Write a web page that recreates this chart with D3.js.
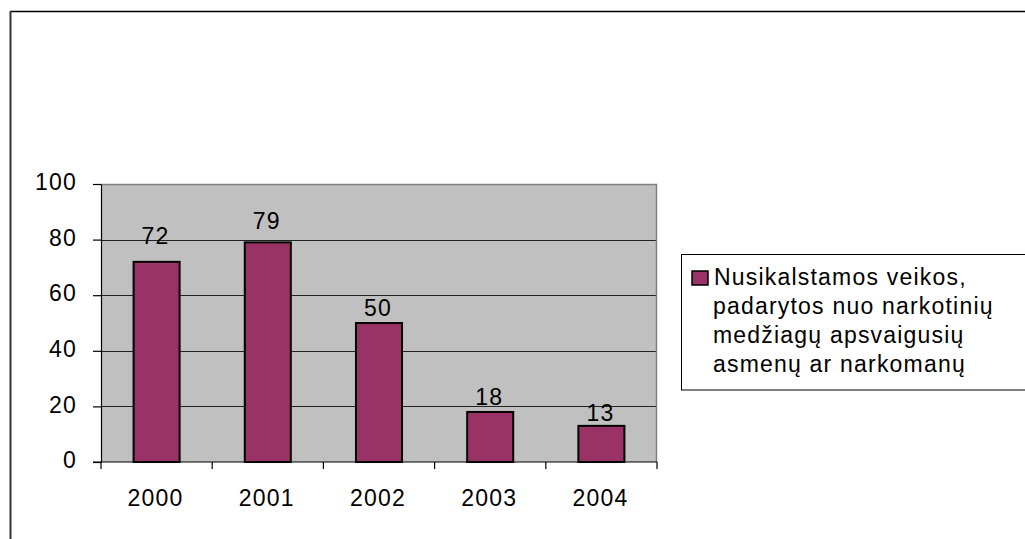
<!DOCTYPE html>
<html>
<head>
<meta charset="utf-8">
<script src="https://cdn.jsdelivr.net/npm/d3@7"></script>
<style>
  html, body { margin: 0; padding: 0; background: #fff; }
  svg { display: block; }
  text { font-family: "Liberation Sans", Arial, sans-serif; fill: #000; }
</style>
</head>
<body>
<script>
// ---- data ----
const categories = ["2000", "2001", "2002", "2003", "2004"];
const values = [72, 79, 50, 18, 13];
const yTicks = [0, 20, 40, 60, 80, 100];
const seriesName = "Nusikalstamos veikos, padarytos nuo narkotinių medžiagų apsvaigusių asmenų ar narkomanų";
const legendLines = ["Nusikalstamos veikos,", "padarytos nuo narkotinių", "medžiagų apsvaigusių", "asmenų ar narkomanų"];

// ---- layout ----
const W = 1025, H = 539;
const plot = { left: 101, top: 184, right: 657, bottom: 462 };
const labelGap = [18, 13, 7, 7, 5]; // gap between bar top and value label baseline
const barColor = "#993366";
const plotBg = "#C0C0C0";
const FS = 23, LS = 1.2;

const svg = d3.select("body").append("svg").attr("width", W).attr("height", H);

// outer chart border (right / bottom lie outside the view)
svg.append("line").attr("x1", 10).attr("x2", W + 5).attr("y1", 11.5).attr("y2", 11.5)
  .attr("stroke", "#000").attr("stroke-width", 1.5);
svg.append("line").attr("x1", 10.5).attr("x2", 10.5).attr("y1", 11).attr("y2", H + 5)
  .attr("stroke", "#333").attr("stroke-width", 2);

const x = d3.scaleBand().domain(categories).range([plot.left, plot.right]).paddingInner(0.586).paddingOuter(0.293);
const xb = d3.scaleBand().domain(categories).range([plot.left, plot.right]);
const y = d3.scaleLinear().domain([0, 100]).range([plot.bottom, plot.top]);

// plot background
svg.append("rect").attr("x", plot.left).attr("y", plot.top)
  .attr("width", plot.right - plot.left).attr("height", plot.bottom - plot.top)
  .attr("fill", plotBg);

// gridlines
svg.append("g").selectAll("line").data(yTicks.filter(d => d > 0 && d < 100)).join("line")
  .attr("x1", plot.left).attr("x2", plot.right)
  .attr("y1", d => Math.round(y(d)) + 0.5).attr("y2", d => Math.round(y(d)) + 0.5)
  .attr("stroke", "#222").attr("stroke-width", 1);

// plot border top/right (gray)
svg.append("path")
  .attr("d", `M${plot.left},${plot.top + 0.5}H${plot.right - 0.5}V${plot.bottom}`)
  .attr("fill", "none").attr("stroke", "#808080").attr("stroke-width", 1.5);

// bars
svg.append("g").selectAll("rect").data(values).join("rect")
  .attr("x", (d, i) => x(categories[i]))
  .attr("y", d => y(d))
  .attr("width", x.bandwidth())
  .attr("height", d => plot.bottom - y(d))
  .attr("fill", barColor).attr("stroke", "#000").attr("stroke-width", 2);

// value labels
svg.append("g").selectAll("text").data(values).join("text")
  .attr("x", (d, i) => x(categories[i]) + x.bandwidth() / 2 - 1)
  .attr("y", (d, i) => y(d) - labelGap[i])
  .attr("text-anchor", "middle")
  .attr("font-size", FS).attr("letter-spacing", LS)
  .text(d => d);

// y axis
const yAxis = d3.axisLeft(y).tickValues(yTicks).tickSize(8).tickPadding(16).tickSizeOuter(0);
const gy = svg.append("g").attr("transform", `translate(${plot.left},0)`).call(yAxis);
gy.select(".domain").attr("stroke", "#000").attr("stroke-width", 1.2);
gy.selectAll(".tick line").attr("stroke", "#000").attr("stroke-width", 1.2);
gy.selectAll(".tick text").attr("font-size", FS).attr("letter-spacing", LS)
  .attr("font-family", "'Liberation Sans', Arial, sans-serif").attr("fill", "#000")
  .attr("dy", "0.25em");

// x axis
svg.append("line").attr("x1", plot.left - 8).attr("x2", plot.right)
  .attr("y1", plot.bottom).attr("y2", plot.bottom)
  .attr("stroke", "#000").attr("stroke-width", 1.2);
const bounds = categories.map(c => xb(c)).concat([plot.right]);
svg.append("g").selectAll("line").data(bounds).join("line")
  .attr("x1", d => d).attr("x2", d => d)
  .attr("y1", plot.bottom).attr("y2", plot.bottom + 7)
  .attr("stroke", "#000").attr("stroke-width", 1.2);
svg.append("g").selectAll("text").data(categories).join("text")
  .attr("x", d => xb(d) + xb.bandwidth() / 2 - 1)
  .attr("y", 506)
  .attr("text-anchor", "middle")
  .attr("font-size", FS).attr("letter-spacing", LS)
  .text(d => d);

// legend
const lg = svg.append("g").attr("class", "legend");
lg.append("rect").attr("x", 681.5).attr("y", 254.5).attr("width", 360).attr("height", 135.5)
  .attr("fill", "#fff").attr("stroke", "#000").attr("stroke-width", 1);
lg.append("rect").attr("x", 692).attr("y", 271).attr("width", 16).attr("height", 14)
  .attr("fill", barColor).attr("stroke", "#000").attr("stroke-width", 1.5);
lg.append("text").attr("font-size", FS).attr("letter-spacing", LS)
  .selectAll("tspan").data(legendLines).join("tspan")
  .attr("x", (d, i) => i === 0 ? 714 : 713)
  .attr("y", (d, i) => 285 + i * 28.9)
  .text(d => d);
lg.append("title").text(seriesName);
</script>
</body>
</html>
